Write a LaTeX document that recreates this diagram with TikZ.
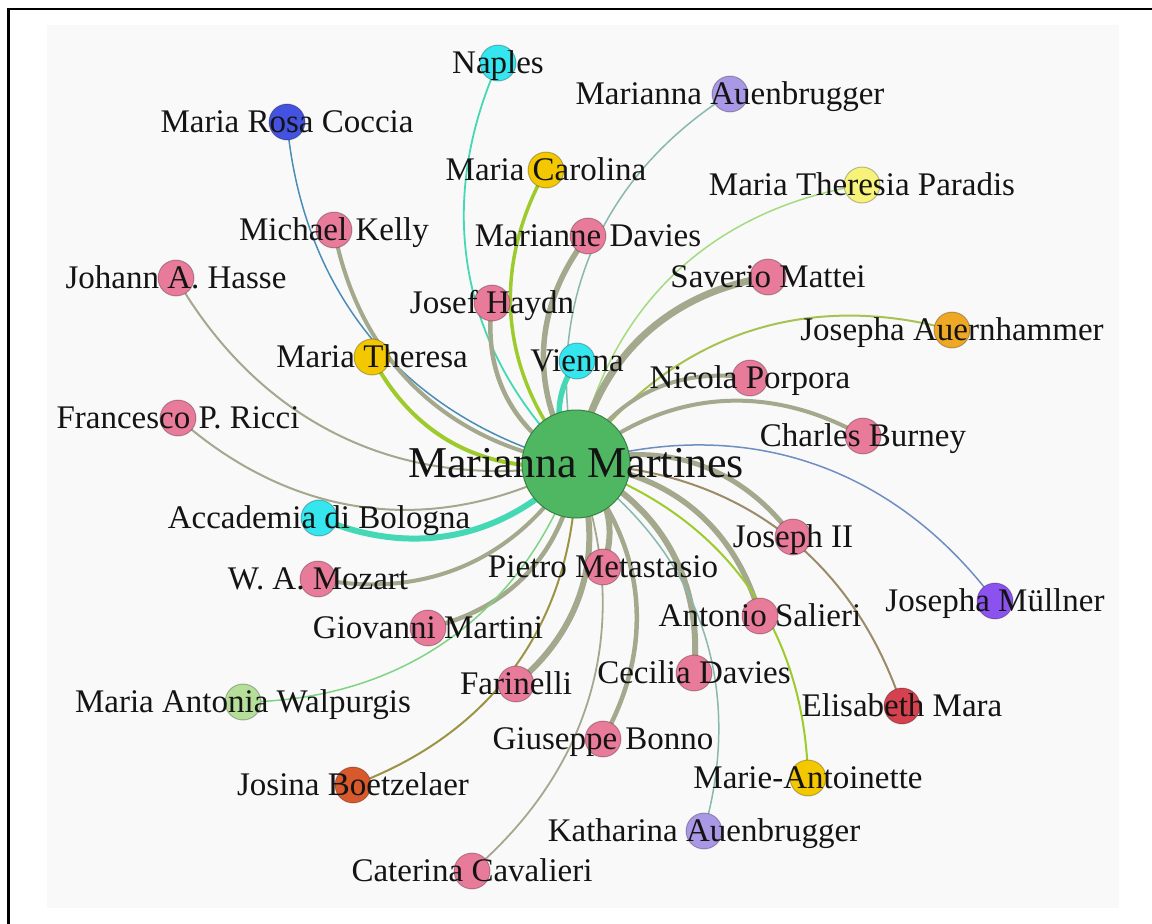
\documentclass[tikz,border=0pt]{standalone}
\usepackage{fontspec}
\setmainfont{Liberation Serif}
\pgfdeclarelayer{bg}
\pgfdeclarelayer{edges}
\pgfdeclarelayer{labels}
\pgfsetlayers{bg,edges,main,labels}
\definecolor{pk}{HTML}{E87A9A}
\definecolor{cy}{HTML}{35E6EF}
\definecolor{lav}{HTML}{A898E6}
\definecolor{blu}{HTML}{4452E0}
\definecolor{gld}{HTML}{F3C800}
\definecolor{pyel}{HTML}{F6F27A}
\definecolor{orng}{HTML}{EEA826}
\definecolor{purp}{HTML}{8C52F0}
\definecolor{lgrn}{HTML}{B4DE9A}
\definecolor{redA}{HTML}{D6414F}
\definecolor{redor}{HTML}{D85A2C}
\definecolor{cgrn}{HTML}{4FB762}
\definecolor{ePk}{HTML}{A4A88C}
\definecolor{eCy}{HTML}{44D8B4}
\definecolor{eLav}{HTML}{88B8AE}
\definecolor{eBlu}{HTML}{4B8DB6}
\definecolor{eGold}{HTML}{9ECB2C}
\definecolor{ePyel}{HTML}{A2DC7E}
\definecolor{eOrng}{HTML}{A8C252}
\definecolor{ePurp}{HTML}{6E8EC2}
\definecolor{eLgrn}{HTML}{7ED482}
\definecolor{eRed}{HTML}{9C8A68}
\definecolor{eRedor}{HTML}{9C9444}
\definecolor{bgray}{HTML}{F9F9F9}
\tikzset{
  dot/.style={circle, minimum size=36pt, inner sep=0pt, draw=black, draw opacity=0.25, line width=1pt},
  lbl/.style={font=\fontsize{33}{33}\selectfont, inner sep=0pt, text=black!92},
  edge/.style={line cap=round, bend left=35}
}
\newcommand{\pnode}[5]{%
  \node[dot, fill=#4] (#1) at (#2,#3) {};
  \begin{pgfonlayer}{labels}
    \node[lbl, anchor=base] (#1-t) at ([yshift=-10.5pt]#1.center) {#5};
  \end{pgfonlayer}}
\newcommand{\pedge}[3]{%
  \begin{pgfonlayer}{edges}
    \draw[edge, draw=#2, line width=#3pt] (C.center) to (#1.center);
  \end{pgfonlayer}}
\begin{document}
\begin{tikzpicture}[x=1pt, y=-1pt]
\useasboundingbox (0,0) rectangle (1152,924);
\begin{pgfonlayer}{bg}
  \fill[bgray] (47,25) rectangle (1119,908);
  \draw[line width=2.5pt] (8.5,924) -- (8.5,9) -- (1152,9);
\end{pgfonlayer}
% center
\node[circle, minimum size=108pt, inner sep=0pt, fill=cgrn, draw=cgrn!70!black, line width=1pt] (C) at (576,464) {};
\begin{pgfonlayer}{labels}
  \node[font=\fontsize{44}{44}\selectfont, inner sep=0pt, anchor=base, text=black!92] (C-t) at ([yshift=-13pt]C.center) {Marianna Martines};
\end{pgfonlayer}
% nodes
\pnode{naples}{498}{63}{cy}{Naples}
\pnode{mauen}{730}{94}{lav}{Marianna Auenbrugger}
\pnode{coccia}{287}{122}{blu}{Maria Rosa Coccia}
\pnode{carolina}{546}{170}{gld}{Maria Carolina}
\pnode{paradis}{862}{185}{pyel}{Maria Theresia Paradis}
\pnode{kelly}{334}{230}{pk}{Michael Kelly}
\pnode{mdavies}{588}{236}{pk}{Marianne Davies}
\pnode{hasse}{176}{278}{pk}{Johann A. Hasse}
\pnode{mattei}{768}{277}{pk}{Saverio Mattei}
\pnode{haydn}{492}{303}{pk}{Josef Haydn}
\pnode{auern}{952}{330}{orng}{Josepha Auernhammer}
\pnode{mtheresa}{372}{357}{gld}{Maria Theresa}
\pnode{vienna}{577}{361}{cy}{Vienna}
\pnode{porpora}{750}{378}{pk}{Nicola Porpora}
\pnode{ricci}{178}{418}{pk}{Francesco P. Ricci}
\pnode{burney}{863}{436}{pk}{Charles Burney}
\pnode{accad}{319}{518}{cy}{Accademia di Bologna}
\pnode{joseph}{793}{537}{pk}{Joseph II}
\pnode{mozart}{318}{579}{pk}{W. A. Mozart}
\pnode{metast}{603}{567}{pk}{Pietro Metastasio}
\pnode{mullner}{995}{601}{purp}{Josepha Müllner}
\pnode{salieri}{760}{616}{pk}{Antonio Salieri}
\pnode{martini}{428}{628}{pk}{Giovanni Martini}
\pnode{cecilia}{694}{673}{pk}{Cecilia Davies}
\pnode{farinelli}{516}{684}{pk}{Farinelli}
\pnode{walp}{243}{702}{lgrn}{Maria Antonia Walpurgis}
\pnode{mara}{902}{706}{redA}{Elisabeth Mara}
\pnode{bonno}{603}{739}{pk}{Giuseppe Bonno}
\pnode{boetz}{353}{785}{redor}{Josina Boetzelaer}
\pnode{antoin}{808}{778}{gld}{Marie-Antoinette}
\pnode{kath}{704}{831}{lav}{Katharina Auenbrugger}
\pnode{cavalieri}{472}{871}{pk}{Caterina Cavalieri}
% edges
\pedge{naples}{eCy}{1.8}
\pedge{mauen}{eLav}{1.5}
\pedge{coccia}{eBlu}{1.5}
\pedge{carolina}{eGold}{3.5}
\pedge{paradis}{ePyel}{1.5}
\pedge{kelly}{ePk}{4}
\pedge{mdavies}{ePk}{5.5}
\pedge{hasse}{ePk}{2}
\pedge{mattei}{ePk}{7}
\pedge{haydn}{ePk}{4.5}
\pedge{auern}{eOrng}{2}
\pedge{mtheresa}{eGold}{4}
\pedge{vienna}{eCy}{5.5}
\pedge{porpora}{ePk}{4}
\pedge{ricci}{ePk}{2}
\pedge{burney}{ePk}{4}
\pedge{accad}{eCy}{6}
\pedge{joseph}{ePk}{5}
\pedge{mozart}{ePk}{4}
\pedge{metast}{ePk}{6}
\pedge{mullner}{ePurp}{1.5}
\pedge{salieri}{ePk}{5.5}
\pedge{martini}{ePk}{4.5}
\pedge{cecilia}{ePk}{6}
\pedge{farinelli}{ePk}{6}
\pedge{walp}{eLgrn}{1.5}
\pedge{mara}{eRed}{2}
\pedge{bonno}{ePk}{4.5}
\pedge{boetz}{eRedor}{2}
\pedge{antoin}{eGold}{2}
\pedge{kath}{eLav}{1.5}
\pedge{cavalieri}{ePk}{1.8}
\end{tikzpicture}
\end{document}
